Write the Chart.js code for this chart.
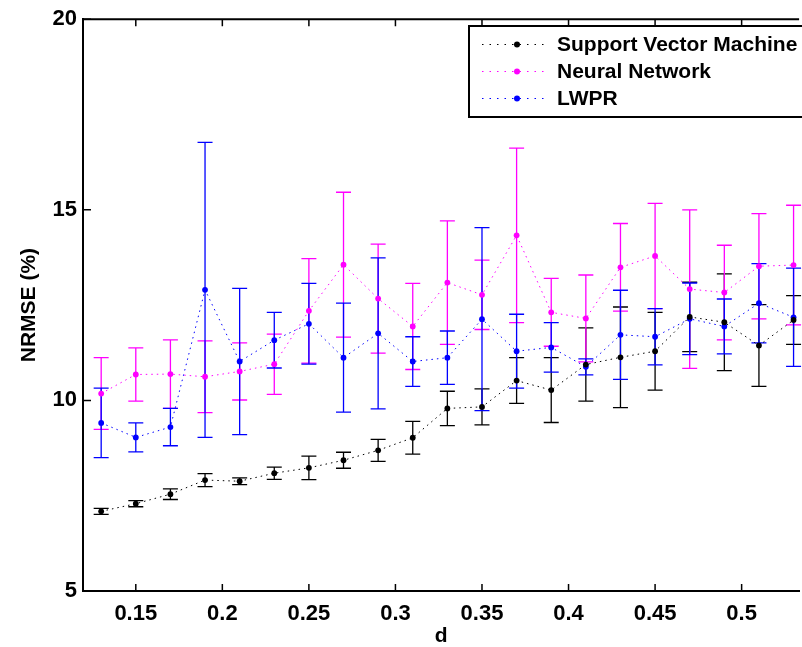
<!DOCTYPE html>
<html>
<head>
<meta charset="utf-8">
<script src="https://cdn.jsdelivr.net/npm/chart.js@4.4.0/dist/chart.umd.min.js"></script>
<style>
  body { margin: 0; background: #fff; overflow: hidden; }
</style>
</head>
<body>
<canvas id="nrmse_chart" width="802" height="647"></canvas>
<script>
// d values (x) and tick labels
const dValues = [0.13, 0.15, 0.17, 0.19, 0.21, 0.23, 0.25, 0.27, 0.29, 0.31, 0.33,
                 0.35, 0.37, 0.39, 0.41, 0.43, 0.45, 0.47, 0.49, 0.51, 0.53];
const xTicks = [0.15, 0.2, 0.25, 0.3, 0.35, 0.4, 0.45, 0.5];
const yTicks = [5, 10, 15, 20];

const seriesNames = ['Support Vector Machine', 'Neural Network', 'LWPR'];

const svm    = [7.09, 7.29, 7.54, 7.91, 7.88, 8.09, 8.23, 8.43, 8.69, 9.02, 9.79,
                9.83, 10.52, 10.27, 10.94, 11.13, 11.29, 12.19, 12.05, 11.44, 12.11];
const svmErr = [0.08, 0.08, 0.14, 0.17, 0.09, 0.16, 0.31, 0.21, 0.29, 0.43, 0.45,
                0.47, 0.60, 0.85, 0.96, 1.32, 1.02, 0.91, 1.27, 1.07, 0.64];

const nn     = [10.18, 10.68, 10.69, 10.62, 10.76, 10.95, 12.35, 13.56, 12.67, 11.94, 13.09,
                12.77, 14.33, 12.31, 12.15, 13.49, 13.79, 12.92, 12.83, 13.52, 13.55];
const nnErr  = [0.94, 0.70, 0.90, 0.94, 0.75, 0.79, 1.37, 1.90, 1.43, 1.13, 1.62,
                0.91, 2.29, 0.89, 1.14, 1.15, 1.38, 2.08, 1.24, 1.38, 1.57];

const lwpr   = [9.41, 9.03, 9.30, 12.90, 11.02, 11.58, 12.01, 11.12, 11.76, 11.02, 11.12,
                12.13, 11.29, 11.39, 10.88, 11.72, 11.67, 12.14, 11.94, 12.55, 12.18];
const lwprErr= [0.91, 0.38, 0.49, 3.87, 1.92, 0.73, 1.06, 1.43, 1.98, 0.65, 0.70,
                2.40, 0.97, 0.65, 0.21, 1.17, 0.74, 0.94, 0.72, 1.04, 1.29];

const colors = ['#000000', '#ff00ff', '#0000ff'];

const FONT = 'Liberation Sans, Arial, Helvetica, sans-serif';

function makeSet(i, values, errs) {
  return {
    label: seriesNames[i],
    data: values.map((v, j) => ({ x: dValues[j], y: v })),
    errors: errs,
    showLine: true,
    borderColor: colors[i],
    backgroundColor: colors[i],
    borderWidth: 1,
    borderDash: [1.5, 4],
    pointRadius: 2.9,
    pointBorderWidth: 0,
    pointHoverRadius: 2.9
  };
}

// error bars with caps, drawn through the scales
const errorBars = {
  id: 'errorBars',
  beforeDatasetsDraw(chart) {
    const { ctx, scales: { x, y } } = chart;
    chart.data.datasets.forEach(ds => {
      ctx.save();
      ctx.strokeStyle = ds.borderColor;
      ctx.lineWidth = 1.3;
      ds.data.forEach((p, j) => {
        const e = ds.errors[j];
        const px = x.getPixelForValue(p.x);
        const top = y.getPixelForValue(p.y + e);
        const bot = y.getPixelForValue(p.y - e);
        ctx.beginPath();
        ctx.moveTo(px, top); ctx.lineTo(px, bot);
        ctx.moveTo(px - 7.5, top); ctx.lineTo(px + 7.5, top);
        ctx.moveTo(px - 7.5, bot); ctx.lineTo(px + 7.5, bot);
        ctx.stroke();
      });
      ctx.restore();
    });
  }
};

// frame top line, inward ticks and the legend box
const frameAndLegend = {
  id: 'frameAndLegend',
  afterDraw(chart) {
    const { ctx, chartArea: a, scales: { x, y } } = chart;
    ctx.save();
    ctx.strokeStyle = '#000';
    ctx.lineWidth = 2;
    ctx.beginPath();
    ctx.moveTo(a.left - 1, a.top); ctx.lineTo(a.right, a.top);
    ctx.stroke();

    ctx.lineWidth = 1.5;
    ctx.beginPath();
    xTicks.forEach(v => {
      const px = x.getPixelForValue(v);
      ctx.moveTo(px, a.bottom); ctx.lineTo(px, a.bottom - 7);
      ctx.moveTo(px, a.top); ctx.lineTo(px, a.top + 7);
    });
    yTicks.forEach(v => {
      const py = y.getPixelForValue(v);
      ctx.moveTo(a.left, py); ctx.lineTo(a.left + 8, py);
    });
    ctx.stroke();

    // legend
    const bx = 469, by = 26, bh = 91;
    ctx.fillStyle = '#fff';
    ctx.fillRect(bx, by, 802 - bx + 10, bh);
    ctx.lineWidth = 2;
    ctx.strokeRect(bx, by, 802 - bx + 10, bh);
    const rows = [44.5, 71.5, 98.5];
    chart.data.datasets.forEach((ds, i) => {
      const ry = rows[i];
      ctx.strokeStyle = ds.borderColor;
      ctx.lineWidth = 1;
      ctx.setLineDash([1.5, 6]);
      ctx.beginPath();
      ctx.moveTo(482, ry); ctx.lineTo(547, ry);
      ctx.stroke();
      ctx.setLineDash([]);
      ctx.fillStyle = ds.borderColor;
      ctx.beginPath();
      ctx.arc(517, ry, 3, 0, Math.PI * 2);
      ctx.fill();
      ctx.fillStyle = '#000';
      ctx.font = 'bold 21px ' + FONT;
      ctx.textBaseline = 'middle';
      ctx.fillText(ds.label, 557, ry + 1);
    });
    ctx.restore();
  }
};

const config = {
  type: 'scatter',
  data: {
    datasets: [makeSet(0, svm, svmErr), makeSet(1, nn, nnErr), makeSet(2, lwpr, lwprErr)]
  },
  options: {
    responsive: false,
    animation: false,
    events: [],
    layout: { padding: { top: 16, left: 0, right: 0, bottom: 0 } },
    plugins: { legend: { display: false }, tooltip: { enabled: false } },
    scales: {
      x: {
        type: 'linear',
        min: 0.1195,
        max: 0.5332,
        afterBuildTicks: s => { s.ticks = xTicks.map(v => ({ value: v })); },
        afterFit: s => { s.height = 56; },
        grid: { drawOnChartArea: false, drawTicks: false },
        border: { display: true, color: '#000', width: 2 },
        ticks: {
          padding: 10,
          color: '#000',
          font: { family: FONT, size: 22, weight: 'bold' },
          callback: v => String(v)
        },
        title: {
          display: true,
          text: 'd',
          color: '#000',
          padding: { top: 0, bottom: 0 },
          font: { family: FONT, size: 21, weight: 'bold', lineHeight: 1.05 }
        }
      },
      y: {
        min: 5,
        max: 20,
        afterBuildTicks: s => { s.ticks = yTicks.map(v => ({ value: v })); },
        afterFit: s => { s.width = 83; },
        grid: { drawOnChartArea: false, drawTicks: false },
        border: { display: true, color: '#000', width: 2 },
        ticks: {
          padding: 6,
          color: '#000',
          font: { family: FONT, size: 22, weight: 'bold' }
        },
        title: {
          display: true,
          text: 'NRMSE (%)',
          color: '#000',
          padding: { top: 17, bottom: 0 },
          font: { family: FONT, size: 21, weight: 'bold', lineHeight: 1.2 }
        }
      }
    }
  },
  plugins: [errorBars, frameAndLegend]
};

new Chart(document.getElementById('nrmse_chart'), config);
</script>
</body>
</html>
